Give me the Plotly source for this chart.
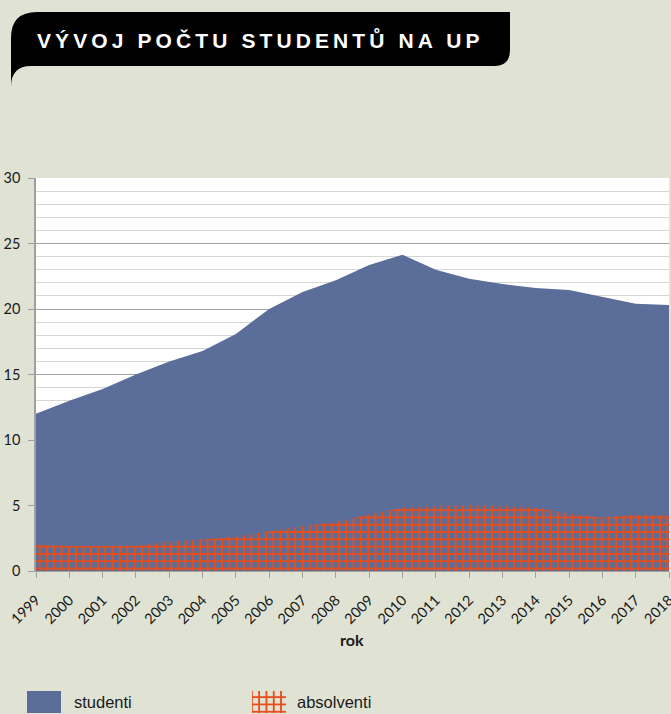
import plotly.graph_objects as go

# Data: number of students and graduates at UP (thousands)
years = list(range(1999, 2019))
studenti = [12.0, 13.0, 13.9, 15.0, 16.0, 16.8, 18.1, 20.0, 21.3, 22.2,
            23.35, 24.15, 23.0, 22.3, 21.9, 21.6, 21.45, 20.9, 20.4, 20.3]
absolventi = [2.0, 1.9, 1.9, 1.9, 2.2, 2.4, 2.6, 3.0, 3.4, 3.7,
              4.3, 4.8, 4.95, 5.0, 4.95, 4.8, 4.35, 4.05, 4.3, 4.2]
y_ticks = [0, 5, 10, 15, 20, 25, 30]

W, H = 671, 714
BG = "#e0e3d4"
BLUE = "#5a6e99"
ORANGE = "#e84e1b"
GRID_MAJOR = "#a3a3a3"
GRID_MINOR = "#d6d6d6"
AXIS = "#a0a0a0"
TICK_FONT = dict(family="Lato, Liberation Sans, sans-serif", size=14.5, color="#1a1a1a")


def fx(x):
    return x / W


def fy(y):
    return 1 - y / H


PATTERN = dict(shape="+", fgcolor=ORANGE, fgopacity=1, bgcolor="rgba(0,0,0,0)",
               size=7.3, solidity=0.45)

fig = go.Figure()

fig.add_trace(go.Scatter(
    x=years, y=studenti, name="studenti", mode="lines",
    line=dict(width=0, color=BLUE), fill="tozeroy", fillcolor=BLUE,
    showlegend=False, hoverinfo="x+y",
))
fig.add_trace(go.Scatter(
    x=years, y=absolventi, name="absolventi", mode="lines",
    line=dict(width=0.6, color="rgba(232,78,27,0.35)"), fill="tozeroy",
    fillcolor="rgba(0,0,0,0)", fillpattern=PATTERN,
    showlegend=False, hoverinfo="x+y",
))

# Patterned legend swatch, placed on a pixel-scaled overlay axis
fig.add_trace(go.Scatter(
    x=[252, 286, 286, 252, 252], y=[691, 691, 713, 713, 691],
    mode="lines", line=dict(width=0), fill="toself",
    fillcolor="rgba(0,0,0,0)", fillpattern=PATTERN,
    xaxis="x2", yaxis="y2", showlegend=False, hoverinfo="skip",
))

# Title banner
banner = (
    f"M{fx(11)},{fy(87)} L{fx(11)},{fy(38)} "
    f"Q{fx(11)},{fy(12)} {fx(37)},{fy(12)} "
    f"L{fx(510)},{fy(12)} L{fx(510)},{fy(50)} "
    f"Q{fx(510)},{fy(66)} {fx(494)},{fy(66)} "
    f"L{fx(31)},{fy(66)} Q{fx(11)},{fy(66)} {fx(11)},{fy(87)} Z"
)

shapes = [
    dict(type="rect", xref="x domain", yref="y domain", x0=0, x1=1, y0=0, y1=1,
         fillcolor="white", line=dict(width=0), layer="below"),
    dict(type="path", xref="paper", yref="paper", path=banner,
         fillcolor="black", line=dict(width=0)),
    dict(type="rect", xref="paper", yref="paper",
         x0=fx(27), x1=fx(61), y0=fy(713), y1=fy(691),
         fillcolor=BLUE, line=dict(width=0)),
]

LEGEND_FONT = dict(family="Liberation Sans, Arial, sans-serif", size=16.5, color="#1a1a1a")

annotations = [
    dict(xref="paper", yref="paper", x=fx(35), y=fy(39), xanchor="left", yanchor="middle",
         text='<span style="letter-spacing:4.1px">VÝVOJ POČTU STUDENTŮ NA UP</span>',
         showarrow=False,
         font=dict(family="Liberation Sans, Arial, sans-serif", size=21, color="white",
                   weight="bold")),
    dict(xref="paper", yref="paper", x=fx(352.5), y=fy(639), xanchor="center", yanchor="middle",
         text="<b>rok</b>", showarrow=False,
         font=dict(family="Lato, Liberation Sans, sans-serif", size=16, color="#1a1a1a")),
    dict(xref="paper", yref="paper", x=fx(72), y=fy(702), xanchor="left", yanchor="middle",
         text="studenti", showarrow=False, font=LEGEND_FONT),
    dict(xref="paper", yref="paper", x=fx(295), y=fy(702), xanchor="left", yanchor="middle",
         text="absolventi", showarrow=False, font=LEGEND_FONT),
]

fig.update_layout(
    width=W, height=H,
    margin=dict(l=0, r=0, t=0, b=0, autoexpand=False),
    paper_bgcolor=BG,
    plot_bgcolor="rgba(0,0,0,0)",
    showlegend=False,
    shapes=shapes,
    annotations=annotations,
    xaxis=dict(
        domain=[fx(36), fx(669)], range=[1999, 2018], automargin=False,
        tickmode="array", tickvals=years, ticktext=[str(y) for y in years],
        tickangle=-45, ticks="outside", ticklen=6, tickcolor=AXIS, tickwidth=1,
        showline=True, linecolor=AXIS, linewidth=1,
        showgrid=False, zeroline=False, tickfont=TICK_FONT,
        ticklabeloverflow="allow", ticklabelstandoff=8,
    ),
    yaxis=dict(
        domain=[fy(571), fy(178)], range=[0, 30], automargin=False,
        tickmode="array", tickvals=y_ticks, ticktext=[str(v) for v in y_ticks],
        ticks="outside", ticklen=6, tickcolor=AXIS, tickwidth=1,
        showline=True, linecolor=AXIS, linewidth=1.5,
        showgrid=True, gridcolor=GRID_MAJOR, gridwidth=1,
        minor=dict(dtick=1, showgrid=True, gridcolor=GRID_MINOR, gridwidth=1.2, ticks=""),
        zeroline=False, tickfont=TICK_FONT, ticklabelstandoff=5,
    ),
    xaxis2=dict(domain=[0, 1], range=[0, W], visible=False, anchor="y2",
                fixedrange=True, automargin=False),
    yaxis2=dict(domain=[0, 1], range=[H, 0], visible=False, anchor="x2",
                fixedrange=True, automargin=False),
)

fig.write_html("out.html")
